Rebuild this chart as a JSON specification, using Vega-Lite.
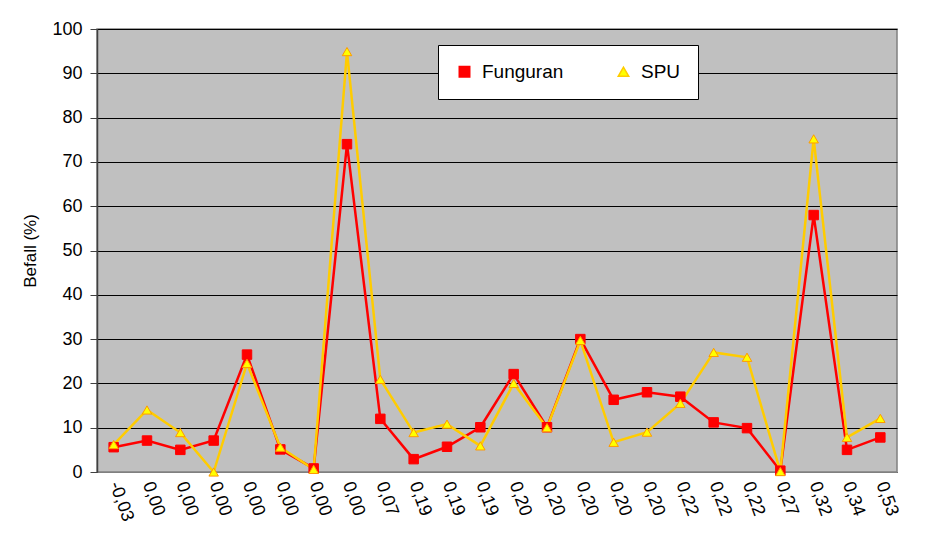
{
  "$schema": "https://vega.github.io/schema/vega-lite/v6.json",
  "width": 800,
  "height": 443,
  "autosize": {"type": "none"},
  "padding": {"left": 97, "top": 29, "right": 36, "bottom": 65},
  "background": "white",
  "config": {
    "font": "Liberation Sans",
    "view": {"fill": "#C0C0C0", "stroke": "#808080", "strokeWidth": 1.5},
    "axis": {"labelFont": "Liberation Sans", "titleFont": "Liberation Sans", "labelColor": "black", "titleColor": "black"}
  },
  "data": {"values": [
    {"idx": 1, "label": "-0,03", "series": "Funguran", "value": 5.6},
    {"idx": 2, "label": "0,00", "series": "Funguran", "value": 7.1},
    {"idx": 3, "label": "0,00", "series": "Funguran", "value": 5.0},
    {"idx": 4, "label": "0,00", "series": "Funguran", "value": 7.1},
    {"idx": 5, "label": "0,00", "series": "Funguran", "value": 26.5},
    {"idx": 6, "label": "0,00", "series": "Funguran", "value": 5.1},
    {"idx": 7, "label": "0,00", "series": "Funguran", "value": 0.8},
    {"idx": 8, "label": "0,00", "series": "Funguran", "value": 74.0},
    {"idx": 9, "label": "0,07", "series": "Funguran", "value": 12.0},
    {"idx": 10, "label": "0,19", "series": "Funguran", "value": 2.9},
    {"idx": 11, "label": "0,19", "series": "Funguran", "value": 5.7},
    {"idx": 12, "label": "0,19", "series": "Funguran", "value": 10.1},
    {"idx": 13, "label": "0,20", "series": "Funguran", "value": 22.1},
    {"idx": 14, "label": "0,20", "series": "Funguran", "value": 10.1},
    {"idx": 15, "label": "0,20", "series": "Funguran", "value": 30.0},
    {"idx": 16, "label": "0,20", "series": "Funguran", "value": 16.3},
    {"idx": 17, "label": "0,20", "series": "Funguran", "value": 18.0},
    {"idx": 18, "label": "0,22", "series": "Funguran", "value": 17.0},
    {"idx": 19, "label": "0,22", "series": "Funguran", "value": 11.2},
    {"idx": 20, "label": "0,22", "series": "Funguran", "value": 9.9},
    {"idx": 21, "label": "0,27", "series": "Funguran", "value": 0.3},
    {"idx": 22, "label": "0,32", "series": "Funguran", "value": 58.0},
    {"idx": 23, "label": "0,34", "series": "Funguran", "value": 5.0},
    {"idx": 24, "label": "0,53", "series": "Funguran", "value": 7.8},
    {"idx": 1, "label": "-0,03", "series": "SPU", "value": 6.2},
    {"idx": 2, "label": "0,00", "series": "SPU", "value": 14.0},
    {"idx": 3, "label": "0,00", "series": "SPU", "value": 8.9},
    {"idx": 4, "label": "0,00", "series": "SPU", "value": 0.0},
    {"idx": 5, "label": "0,00", "series": "SPU", "value": 24.5},
    {"idx": 6, "label": "0,00", "series": "SPU", "value": 5.6},
    {"idx": 7, "label": "0,00", "series": "SPU", "value": 0.6},
    {"idx": 8, "label": "0,00", "series": "SPU", "value": 94.9},
    {"idx": 9, "label": "0,07", "series": "SPU", "value": 20.9},
    {"idx": 10, "label": "0,19", "series": "SPU", "value": 8.9},
    {"idx": 11, "label": "0,19", "series": "SPU", "value": 10.8},
    {"idx": 12, "label": "0,19", "series": "SPU", "value": 5.9},
    {"idx": 13, "label": "0,20", "series": "SPU", "value": 20.0},
    {"idx": 14, "label": "0,20", "series": "SPU", "value": 10.0},
    {"idx": 15, "label": "0,20", "series": "SPU", "value": 29.7},
    {"idx": 16, "label": "0,20", "series": "SPU", "value": 6.7},
    {"idx": 17, "label": "0,20", "series": "SPU", "value": 9.0},
    {"idx": 18, "label": "0,22", "series": "SPU", "value": 15.5},
    {"idx": 19, "label": "0,22", "series": "SPU", "value": 27.0},
    {"idx": 20, "label": "0,22", "series": "SPU", "value": 25.9},
    {"idx": 21, "label": "0,27", "series": "SPU", "value": 0.1},
    {"idx": 22, "label": "0,32", "series": "SPU", "value": 75.2},
    {"idx": 23, "label": "0,34", "series": "SPU", "value": 7.8},
    {"idx": 24, "label": "0,53", "series": "SPU", "value": 12.1}
  ]},
  "encoding": {
    "x": {
      "field": "idx", "type": "ordinal",
      "scale": {"type": "point", "padding": 0.5},
      "axis": {
        "title": null,
        "labelExpr": "['-0,03','0,00','0,00','0,00','0,00','0,00','0,00','0,00','0,07','0,19','0,19','0,19','0,20','0,20','0,20','0,20','0,20','0,22','0,22','0,22','0,27','0,32','0,34','0,53'][datum.value-1]",
        "labelAngle": 70,
        "labelAlign": "left",
        "labelBaseline": "middle",
        "labelFontSize": 18,
        "labelPadding": 10,
        "ticks": false,
        "domainColor": "#808080",
        "grid": false
      }
    },
    "y": {
      "field": "value", "type": "quantitative",
      "scale": {"domain": [0, 100], "nice": false},
      "axis": {
        "title": "Befall (%)",
        "titleFontSize": 17,
        "titleFontWeight": "normal",
        "titlePadding": 12,
        "values": [0, 10, 20, 30, 40, 50, 60, 70, 80, 90, 100],
        "labelFontSize": 18,
        "labelPadding": 8,
        "tickSize": 7,
        "tickColor": "#404040",
        "domainColor": "#404040",
        "domainWidth": 1.5,
        "grid": true,
        "gridColor": "#000000",
        "gridWidth": 1
      }
    },
    "color": {
      "field": "series", "type": "nominal",
      "scale": {"domain": ["Funguran", "SPU"], "range": ["#FF0000", "#FFCC00"]},
      "legend": {
        "title": null,
        "orient": "none",
        "legendX": 341,
        "legendY": 16,
        "direction": "horizontal",
        "columns": 2,
        "columnPadding": 50,
        "fillColor": "white",
        "strokeColor": "black",
        "padding": 17,
        "labelFontSize": 19,
        "labelColor": "black",
        "symbolSize": 110,
        "symbolStrokeWidth": 1.5,
        "labelOffset": 8,
        "offset": 0
      }
    }
  },
  "layer": [
    {"mark": {"type": "line", "strokeWidth": 2.5}},
    {
      "mark": {"type": "point", "filled": true, "size": 90, "opacity": 1},
      "encoding": {
        "shape": {"field": "series", "type": "nominal", "scale": {"domain": ["Funguran", "SPU"], "range": ["square", "triangle-up"]}, "legend": null},
        "fill": {"field": "series", "type": "nominal", "scale": {"domain": ["Funguran", "SPU"], "range": ["#FF0000", "#FFFF00"]}, "legend": null},
        "stroke": {"field": "series", "type": "nominal", "scale": {"domain": ["Funguran", "SPU"], "range": ["#FF0000", "#FF9900"]}, "legend": null},
        "strokeWidth": {"value": 1}
      }
    }
  ]
}
